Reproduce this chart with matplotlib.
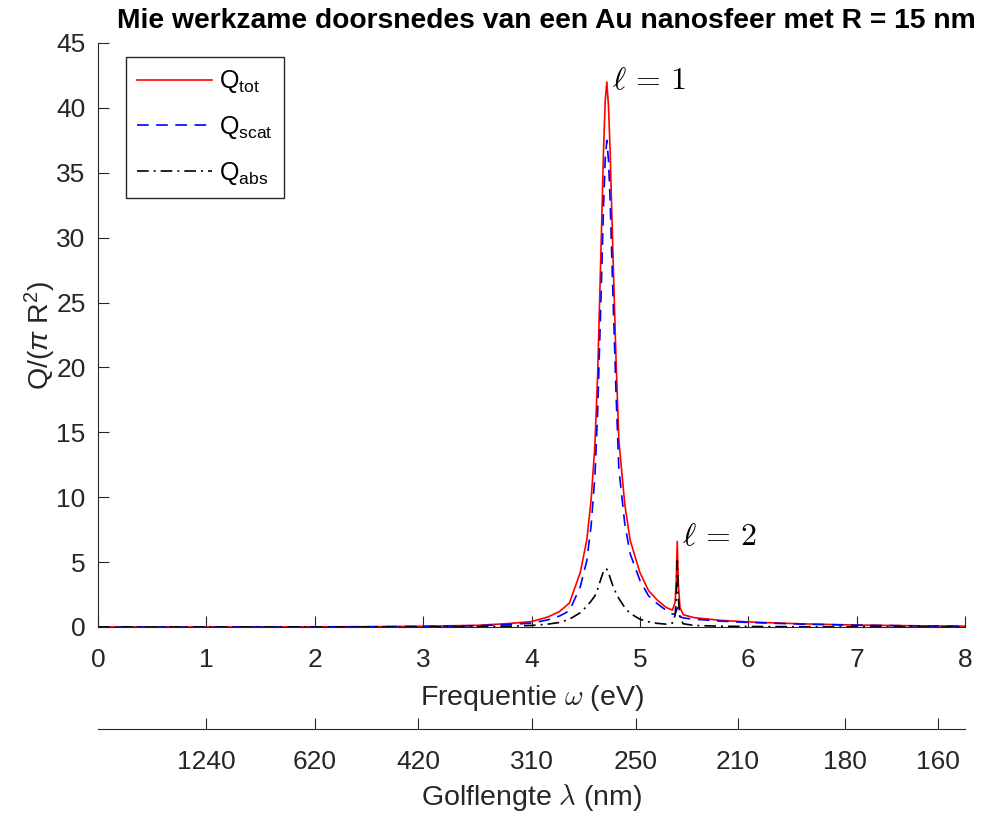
import matplotlib.pyplot as plt

# data
energy = [0, 0.5, 1, 1.5, 2, 2.5, 3, 3.5, 3.8, 4.0, 4.15, 4.26, 4.35, 4.45, 4.51,
          4.55, 4.585, 4.61, 4.64, 4.665, 4.68, 4.695, 4.71, 4.725, 4.75, 4.78,
          4.806, 4.86, 4.91, 5.0, 5.08, 5.16, 5.24, 5.30, 5.325, 5.335, 5.345,
          5.355, 5.37, 5.40, 5.5, 5.75, 6.0, 6.5, 7.0, 7.5, 8.0]
q_abs = [0, 0, 0, 0, 0.001, 0.003, 0.008, 0.03, 0.07, 0.12, 0.22, 0.35, 0.6, 1.1, 1.6,
         2.0, 2.4, 2.9, 3.7, 4.3, 4.5, 4.45, 4.2, 3.8, 3.2, 2.6,
         2.2, 1.5, 1.05, 0.6, 0.4, 0.28, 0.22, 0.3, 0.9, 2.2, 5.1,
         2.2, 0.7, 0.25, 0.12, 0.06, 0.04, 0.02, 0.01, 0.006, 0.004]
q_scat = [0, 0, 0.002, 0.005, 0.01, 0.02, 0.05, 0.1, 0.2, 0.3, 0.55, 0.85, 1.25, 3.1, 5.1,
          7.8, 11.6, 16.5, 25, 32.5, 36, 37.5, 36, 33, 26, 18,
          12.2, 8, 5.65, 3.6, 2.4, 1.8, 1.3, 1.0, 1.0, 1.2, 1.5,
          1.1, 0.8, 0.7, 0.6, 0.45, 0.35, 0.22, 0.14, 0.09, 0.06]
q_tot = [0, 0, 0.002, 0.005, 0.011, 0.023, 0.058, 0.13, 0.27, 0.42, 0.77, 1.2, 1.85, 4.2, 6.7,
         9.8, 14, 19.4, 28.7, 36.8, 40.5, 42, 40.2, 36.8, 29.2, 20.6,
         14.4, 9.5, 6.7, 4.2, 2.8, 2.08, 1.52, 1.3, 1.9, 3.4, 6.6,
         3.3, 1.5, 0.95, 0.72, 0.51, 0.39, 0.24, 0.15, 0.1, 0.064]

wavelengths = [1240, 620, 420, 310, 250, 210, 180, 160]

plt.rcParams['font.family'] = ['Liberation Sans', 'DejaVu Sans']
plt.rcParams['mathtext.fontset'] = 'custom'
plt.rcParams['mathtext.rm'] = 'Liberation Sans'
plt.rcParams['mathtext.it'] = 'Liberation Sans:italic'
plt.rcParams['mathtext.bf'] = 'Liberation Sans:bold'

axcol = '#262626'
fs = 19
lfs = 20.5

fig = plt.figure(figsize=(9.81, 8.16), dpi=100)
ax = fig.add_axes([98 / 981, 1 - 627 / 816, 867 / 981, 584 / 816])

ax.plot(energy, q_tot, color='#ff0000', lw=1.2, label=r'Q$_{\mathrm{tot}}$')
ax.plot(energy, q_scat, color='#0000ff', lw=1.2, dashes=(7, 4.5), label=r'Q$_{\mathrm{scat}}$')
ax.plot(energy, q_abs, color='black', lw=1.2, dashes=(7, 3, 1.2, 3), label=r'Q$_{\mathrm{abs}}$')

ax.set_xlim(0, 8)
ax.set_ylim(0, 45)
ax.set_xticks(range(0, 9))
ax.set_yticks(range(0, 46, 5))
for s in ['top', 'right']:
    ax.spines[s].set_visible(False)
for s in ['left', 'bottom']:
    ax.spines[s].set_color(axcol)
ax.tick_params(direction='in', length=8, color=axcol, labelcolor=axcol, labelsize=fs)
ax.tick_params(axis='x', pad=15)
ax.tick_params(axis='y', pad=9)

ax.set_xlabel(r'Frequentie $\omega$ (eV)', fontsize=lfs, color=axcol, labelpad=8,
              math_fontfamily='cm')
ax.set_ylabel(r'Q/($\pi$ R$^2$)', fontsize=lfs, color=axcol, labelpad=-1)
ax.set_title('Mie werkzame doorsnedes van een Au nanosfeer met R = 15 nm',
             fontsize=20.3, fontweight='bold', pad=11, x=0.517)

ax.text(4.74, 42.1, r'$\ell\,=\,1$', fontsize=23, va='center', math_fontfamily='cm')
ax.text(5.39, 6.9, r'$\ell\,=\,2$', fontsize=23, va='center', math_fontfamily='cm')

leg = ax.legend(loc='upper left', bbox_to_anchor=(0.032, 0.976), borderaxespad=0,
                fancybox=False, framealpha=1, edgecolor=axcol, fontsize=18,
                handlelength=3.0, labelspacing=0.75, handletextpad=0.3,
                borderpad=0.45)
leg.get_frame().set_linewidth(1.0)

# wavelength axis below
ax2 = fig.add_axes([98 / 981, 1 - 729 / 816, 867 / 981, 0.001])
ax2.set_xlim(0, 8)
ax2.set_yticks([])
for s in ['top', 'right', 'left']:
    ax2.spines[s].set_visible(False)
ax2.spines['bottom'].set_color(axcol)
ax2.patch.set_visible(False)
ax2.set_xticks([1240 / w for w in wavelengths])
ax2.set_xticklabels([str(w) for w in wavelengths])
ax2.tick_params(axis='x', direction='in', length=8, color=axcol, labelcolor=axcol,
                labelsize=fs, pad=15)
ax2.set_xlabel(r'Golflengte $\lambda$ (nm)', fontsize=lfs, color=axcol, labelpad=6,
               math_fontfamily='cm')

fig.savefig('out.png', dpi=100)
